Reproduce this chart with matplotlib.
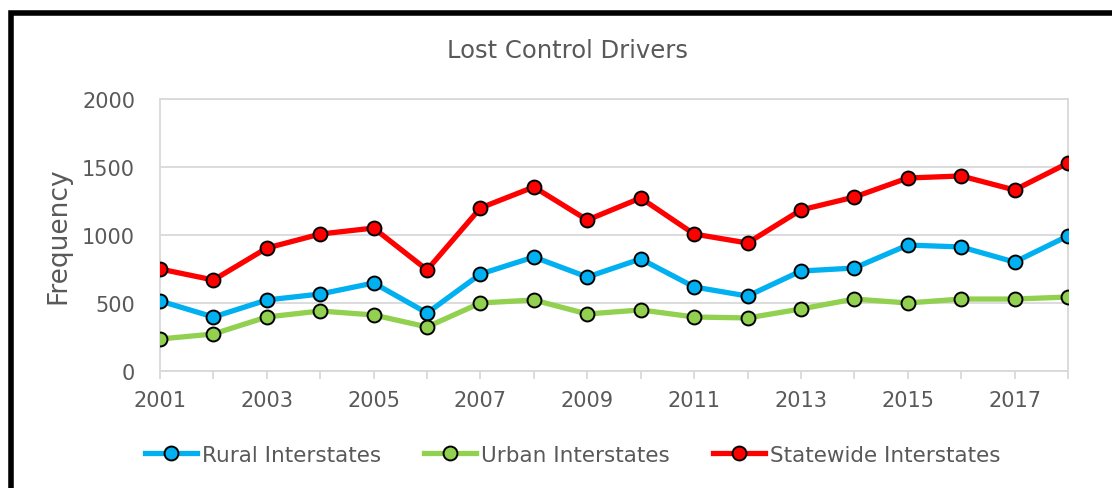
import matplotlib.pyplot as plt
from matplotlib.patches import Rectangle

# --- Data ---
years = list(range(2001, 2019))
rural = [515, 397, 522, 566, 647, 426, 713, 838, 691, 824, 618, 551, 735, 757, 926, 912, 801, 993]
urban = [235, 272, 397, 441, 412, 324, 500, 522, 419, 449, 397, 390, 456, 529, 500, 529, 529, 544]
statewide = [750, 669, 904, 1007, 1051, 743, 1199, 1353, 1110, 1272, 1007, 941, 1184, 1279, 1419, 1434, 1331, 1529]

series = [
    ("Rural Interstates", rural, "#00B0F0"),
    ("Urban Interstates", urban, "#92D050"),
    ("Statewide Interstates", statewide, "#FF0000"),
]

TEXT = "#595959"
GRID = "#d9d9d9"

plt.rcParams["font.family"] = ["DejaVu Sans"]

fig = plt.figure(figsize=(11.12, 4.89), dpi=100)
ax = fig.add_axes([0.1439, 0.2393, 0.8165, 0.5562])

for label, vals, color in series:
    ax.plot(years, vals, color=color, lw=3.8, marker="o", markersize=10,
            markerfacecolor=color, markeredgecolor="black", markeredgewidth=1.4,
            label=label, zorder=3)

ax.set_xlim(2001, 2018)
ax.set_ylim(0, 2000)
ax.set_yticks(range(0, 2001, 500))
ax.set_xticks(range(2001, 2019, 2))
ax.set_xticks(years, minor=True)
ax.grid(axis="y", color=GRID, lw=1.3)
ax.set_axisbelow(True)

for s in ax.spines.values():
    s.set_color(GRID)
    s.set_linewidth(1.3)

ax.tick_params(axis="y", length=0, labelsize=15, labelcolor=TEXT, pad=18)
ax.tick_params(axis="x", which="both", direction="out", length=6, color=GRID,
               width=1.3, labelsize=15, labelcolor=TEXT, pad=8)

ax.set_ylabel("Frequency", fontsize=19, color=TEXT, labelpad=8)
fig.text(0.51, 0.895, "Lost Control Drivers", ha="center", va="center",
         fontsize=17.5, color=TEXT)

leg = fig.legend(loc="center", bbox_to_anchor=(0.515, 0.068), ncol=3, frameon=False,
                 fontsize=15.5, handlelength=2.4, columnspacing=2.0, handletextpad=0.25)
for t in leg.get_texts():
    t.set_color(TEXT)

# black border of the chart box (cropped on right and bottom)
fig.patches.append(Rectangle((10.5 / 1112, -0.1), 1.2, 1 - 13.5 / 489 + 0.1,
                             transform=fig.transFigure, fill=False,
                             edgecolor="black", lw=4, zorder=10))

fig.savefig("out.png", dpi=100)
